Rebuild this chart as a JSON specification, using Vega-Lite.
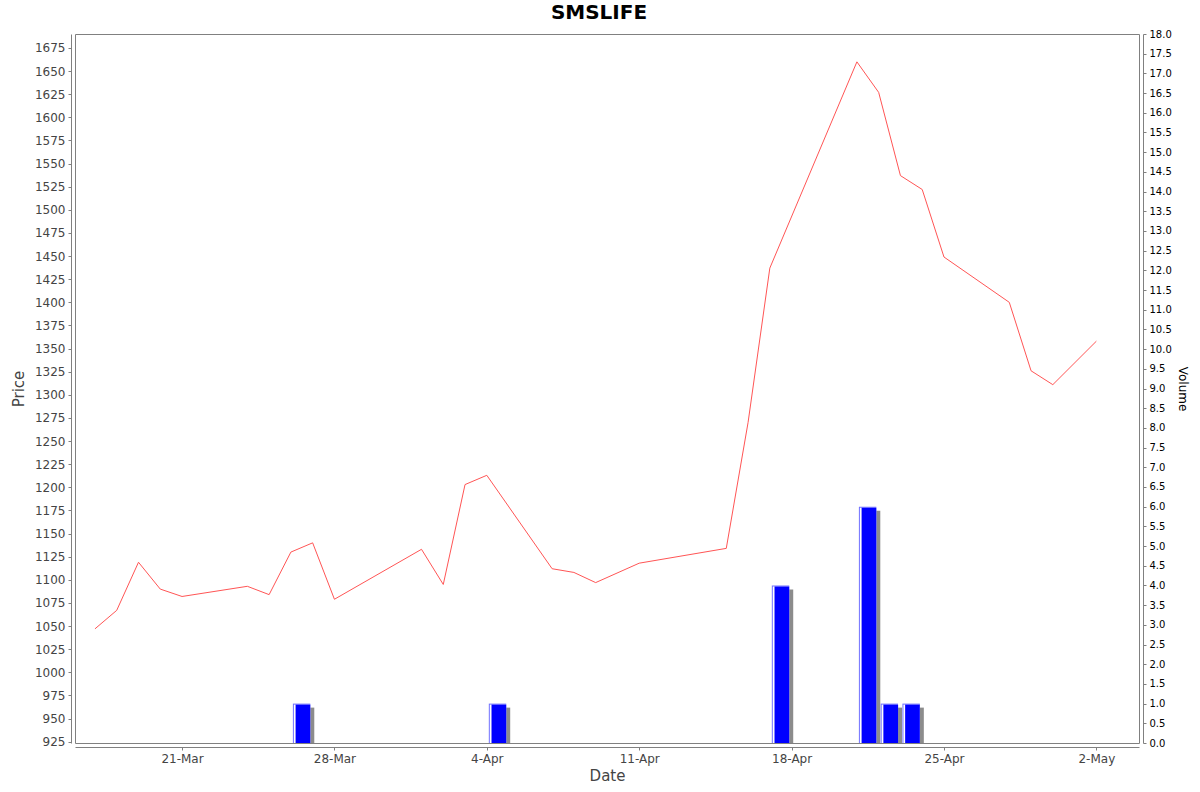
{
  "$schema": "https://vega.github.io/schema/vega-lite/v6.json",
  "width": 1064,
  "height": 709,
  "autosize": "none",
  "padding": {"left": 75, "top": 34, "right": 61, "bottom": 49},
  "background": "white",
  "config": {
    "font": "DejaVu Sans",
    "view": {"stroke": "#808080", "strokeWidth": 1},
    "axis": {
      "grid": false,
      "domainColor": "#808080",
      "tickColor": "#808080",
      "tickSize": 3,
      "labelFont": "DejaVu Sans",
      "titleFont": "DejaVu Sans",
      "titleFontWeight": "normal"
    }
  },
  "title": {
    "text": "SMSLIFE",
    "fontSize": 20,
    "fontWeight": "bold",
    "color": "black",
    "anchor": "middle",
    "dx": -8,
    "offset": 6
  },
  "data": {
    "values": [
      {"date": "2024-03-17", "price": 1047, "volume": 0},
      {"date": "2024-03-18", "price": 1067, "volume": 0},
      {"date": "2024-03-19", "price": 1119, "volume": 0},
      {"date": "2024-03-20", "price": 1090, "volume": 0},
      {"date": "2024-03-21", "price": 1082, "volume": 0},
      {"date": "2024-03-24", "price": 1093, "volume": 0},
      {"date": "2024-03-25", "price": 1084, "volume": 0},
      {"date": "2024-03-26", "price": 1130, "volume": 1},
      {"date": "2024-03-27", "price": 1140, "volume": 0},
      {"date": "2024-03-28", "price": 1079, "volume": 0},
      {"date": "2024-04-01", "price": 1133, "volume": 0},
      {"date": "2024-04-02", "price": 1095, "volume": 0},
      {"date": "2024-04-03", "price": 1203, "volume": 0},
      {"date": "2024-04-04", "price": 1213, "volume": 1},
      {"date": "2024-04-07", "price": 1112, "volume": 0},
      {"date": "2024-04-08", "price": 1108, "volume": 0},
      {"date": "2024-04-09", "price": 1097, "volume": 0},
      {"date": "2024-04-11", "price": 1118, "volume": 0},
      {"date": "2024-04-15", "price": 1134, "volume": 0},
      {"date": "2024-04-16", "price": 1270, "volume": 0},
      {"date": "2024-04-17", "price": 1437, "volume": 4},
      {"date": "2024-04-21", "price": 1660, "volume": 6},
      {"date": "2024-04-22", "price": 1627, "volume": 1},
      {"date": "2024-04-23", "price": 1537, "volume": 1},
      {"date": "2024-04-24", "price": 1522, "volume": 0},
      {"date": "2024-04-25", "price": 1449, "volume": 0},
      {"date": "2024-04-28", "price": 1400, "volume": 0},
      {"date": "2024-04-29", "price": 1326, "volume": 0},
      {"date": "2024-04-30", "price": 1311, "volume": 0},
      {"date": "2024-05-02", "price": 1358, "volume": 0}
    ]
  },
  "encoding": {
    "x": {
      "field": "date",
      "type": "temporal",
      "title": "Date",
      "scale": {
        "type": "utc",
        "nice": false,
        "padding": 0,
        "domain": [
          {"year": 2024, "month": 3, "date": 16, "hours": 2, "utc": true},
          {"year": 2024, "month": 5, "date": 3, "hours": 23, "utc": true}
        ]
      },
      "axis": {
        "offset": 4,
        "format": "%-d-%b",
        "values": [
          {"year": 2024, "month": 3, "date": 21, "utc": true},
          {"year": 2024, "month": 3, "date": 28, "utc": true},
          {"year": 2024, "month": 4, "date": 4, "utc": true},
          {"year": 2024, "month": 4, "date": 11, "utc": true},
          {"year": 2024, "month": 4, "date": 18, "utc": true},
          {"year": 2024, "month": 4, "date": 25, "utc": true},
          {"year": 2024, "month": 5, "date": 2, "utc": true}
        ],
        "labelFontSize": 12,
        "labelColor": "#444444",
        "labelPadding": 3,
        "titleFontSize": 15,
        "titleColor": "#444444",
        "titlePadding": 4
      }
    }
  },
  "layer": [
    {
      "transform": [{"filter": "datum.volume > 0"}],
      "encoding": {
        "y": {
          "field": "volume",
          "type": "quantitative",
          "title": "Volume",
          "scale": {"domain": [0, 18], "nice": false, "padding": 0},
          "axis": {
            "orient": "right",
            "offset": 4,
            "values": [0, 0.5, 1, 1.5, 2, 2.5, 3, 3.5, 4, 4.5, 5, 5.5, 6, 6.5, 7, 7.5, 8, 8.5, 9, 9.5, 10, 10.5, 11, 11.5, 12, 12.5, 13, 13.5, 14, 14.5, 15, 15.5, 16, 16.5, 17, 17.5, 18],
            "format": ".1f",
            "labelFontSize": 10,
            "labelColor": "black",
            "labelPadding": 3,
            "titleFontSize": 12,
            "titleColor": "black",
            "titlePadding": 4
          }
        }
      },
      "layer": [
        {"mark": {"type": "bar", "width": 17.4, "xOffset": 14.7, "yOffset": 4, "color": "#8c8c8c", "clip": true}},
        {"mark": {"type": "bar", "width": 17.4, "xOffset": 10.7, "color": "#7070ff", "clip": true}},
        {"mark": {"type": "bar", "width": 16.4, "xOffset": 11.2, "yOffset": 1, "color": "#ffffff", "clip": true}},
        {"mark": {"type": "bar", "width": 14.7, "xOffset": 12.05, "yOffset": 1, "color": "#0000ff", "clip": true}}
      ]
    },
    {
      "mark": {"type": "line", "color": "#ff5555", "strokeWidth": 1},
      "encoding": {
        "y": {
          "field": "price",
          "type": "quantitative",
          "title": "Price",
          "scale": {"domain": [923.6, 1690.1], "nice": false, "zero": false},
          "axis": {
            "orient": "left",
            "offset": 4,
            "format": "d",
            "values": [925, 950, 975, 1000, 1025, 1050, 1075, 1100, 1125, 1150, 1175, 1200, 1225, 1250, 1275, 1300, 1325, 1350, 1375, 1400, 1425, 1450, 1475, 1500, 1525, 1550, 1575, 1600, 1625, 1650, 1675],
            "labelFontSize": 12,
            "labelColor": "#444444",
            "labelPadding": 3,
            "titleFontSize": 15,
            "titleColor": "#444444",
            "titlePadding": 8
          }
        }
      }
    }
  ],
  "resolve": {"scale": {"y": "independent"}}
}
